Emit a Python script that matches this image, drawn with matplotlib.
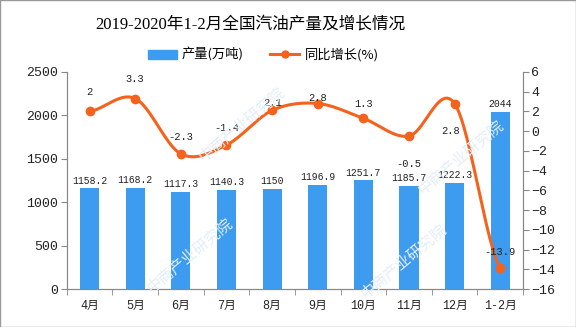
import numpy as np
import matplotlib
matplotlib.use("Agg")
import matplotlib.pyplot as plt
from matplotlib.patches import Rectangle, Patch
from matplotlib.lines import Line2D

plt.rcParams['font.family'] = ['Liberation Mono', 'Noto Sans CJK SC']

# data
months = ["4月", "5月", "6月", "7月", "8月", "9月", "10月", "11月", "12月", "1-2月"]
output = [1158.2, 1168.2, 1117.3, 1140.3, 1150, 1196.9, 1251.7, 1185.7, 1222.3, 2044]
output_labels = ["1158.2", "1168.2", "1117.3", "1140.3", "1150", "1196.9", "1251.7", "1185.7", "1222.3", "2044"]
growth = [2, 3.3, -2.3, -1.4, 2.1, 2.8, 1.3, -0.5, 2.8, -13.9]
growth_labels = ["2", "3.3", "-2.3", "-1.4", "2.1", "2.8", "1.3", "-0.5", "2.8", "-13.9"]
# label offsets in points (above/below the marker)
growth_offsets = [(0, 14), (0, 14), (0, 12), (0, 12), (0, 5), (0, 4), (0, 10), (0, -20), (-3, -20), (0, 12)]

BAR_COLOR = "#3d9cf0"
LINE_COLOR = "#f4621c"
GRAY = "#888888"
TXT = "#222222"

fig = plt.figure(figsize=(5.76, 3.27), dpi=100)
ax = fig.add_axes([0.116, 0.116, 0.792, 0.664])
ax2 = ax.twinx()

x = np.arange(len(months))

# faint watermark
for wx, wy in [(0.42, 0.62), (0.80, 0.52), (0.33, 0.22), (0.70, 0.20)]:
    fig.text(wx, wy, "中商产业研究院", color="#e4eef8", fontsize=11, rotation=40,
             ha="center", va="center", zorder=0, family=['Noto Sans CJK SC'])

ax.bar(x, output, width=0.42, color=BAR_COLOR, zorder=2)
for xi, v, s in zip(x, output, output_labels):
    ax.annotate(s, (xi, v), xytext=(0, 2), textcoords="offset points",
                ha="center", va="bottom", fontsize=7, color=TXT)

ax.set_ylim(0, 2500)
ax.set_yticks(np.arange(0, 2501, 500))
ax.set_xlim(-0.5, len(months) - 0.5)
ax.set_xticks(x)
ax.set_xticklabels(months, fontsize=8.5, color=TXT)
ax.set_xticks(np.arange(-0.5, len(months), 1), minor=True)
ax.tick_params(axis="x", which="major", length=0, pad=8)
ax.tick_params(axis="x", which="minor", length=4, color=GRAY)
ax.tick_params(axis="y", length=4, color=GRAY, labelsize=9.5, pad=2, labelcolor=TXT)

# smooth line through the growth points (Catmull-Rom)
gx, gy = [], []
p = np.array(growth, dtype=float)
pp = np.concatenate([[p[0]], p, [p[-1]]])
for i in range(len(p) - 1):
    t = np.linspace(0, 1, 20)
    p0, p1, p2, p3 = pp[i], pp[i + 1], pp[i + 2], pp[i + 3]
    yy = 0.5 * ((2 * p1) + (-p0 + p2) * t + (2 * p0 - 5 * p1 + 4 * p2 - p3) * t ** 2
                + (-p0 + 3 * p1 - 3 * p2 + p3) * t ** 3)
    gx.extend(i + t)
    gy.extend(yy)
ax2.plot(gx, gy, color=LINE_COLOR, lw=2.2, zorder=3)
ax2.plot(x, growth, "o", color=LINE_COLOR, ms=6, zorder=4)
for xi, v, s, off in zip(x, growth, growth_labels, growth_offsets):
    ax2.annotate(s, (xi, v), xytext=off, textcoords="offset points",
                 ha="center", va="center", fontsize=7.5, color=TXT, zorder=5)

ax2.set_ylim(-16, 6)
ax2.set_yticks(np.arange(-16, 7, 2))
ax2.tick_params(axis="y", length=4, color=GRAY, labelsize=9.5, pad=2, labelcolor=TXT)

for a in (ax, ax2):
    a.spines["top"].set_visible(False)
    for s in ("left", "right", "bottom"):
        a.spines[s].set_color(GRAY)
ax.set_zorder(ax2.get_zorder() - 1)
ax.patch.set_visible(False)

# legend
handles = [Patch(color=BAR_COLOR, label="产量(万吨)"),
           Line2D([0], [0], color=LINE_COLOR, lw=2.2, marker="o", ms=5, label="同比增长(%)")]
fig.legend(handles=handles, loc="center", bbox_to_anchor=(0.457, 0.832), ncol=2,
           frameon=False, handlelength=2.2, columnspacing=2.0, handletextpad=0.4,
           prop={'family': ['Noto Sans CJK SC'], 'size': 9.5})

fig.text(0.434, 0.924, "2019-2020年1-2月全国汽油产量及增长情况", ha="center", va="center",
         fontsize=12, color="#000000", family=['Liberation Serif', 'Noto Sans CJK SC'],
         weight="medium")

fig.patches.append(Rectangle((0, 0), 1, 1, transform=fig.transFigure, fill=False,
                             edgecolor="#999999", lw=1))

fig.savefig("out.png", dpi=100)
